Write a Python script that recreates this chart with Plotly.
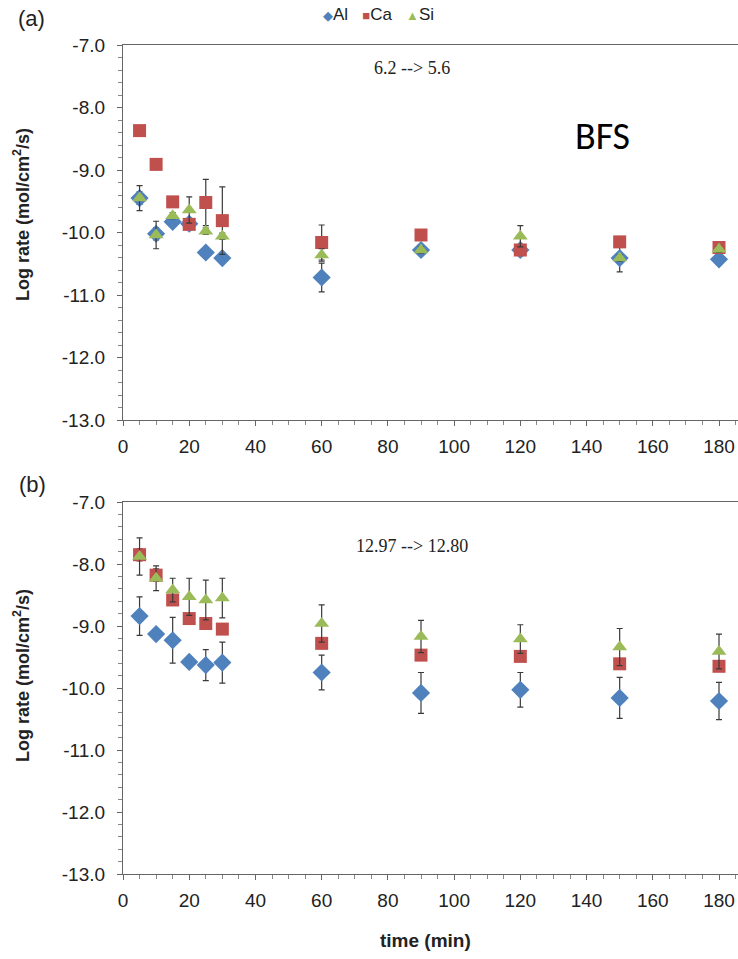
import plotly.graph_objects as go

# ---------------- data ----------------
time_min = [5, 10, 15, 20, 25, 30, 60, 90, 120, 150, 180]

# panel (a): pH 6.2 --> 5.6
a_al = [-9.45, -10.02, -9.83, -9.86, -10.32, -10.41, -10.72, -10.28, -10.28, -10.41, -10.43]
a_al_err = [0.10, 0.10, 0.05, 0.05, 0.05, 0.05, 0.23, 0.05, 0.05, 0.22, 0.05]
a_ca = [-8.37, -8.91, -9.51, -9.87, -9.52, -9.81, -10.16, -10.04, -10.28, -10.15, -10.24]
a_ca_err = [0.05, 0.05, 0.05, 0.05, 0.37, 0.54, 0.28, 0.05, 0.05, 0.05, 0.05]
a_si = [-9.45, -10.04, -9.73, -9.64, -9.98, -10.06, -10.36, -10.28, -10.06, -10.41, -10.27]
a_si_err = [0.20, 0.22, 0.05, 0.21, 0.05, 0.05, 0.10, 0.05, 0.17, 0.05, 0.05]

# panel (b): pH 12.97 --> 12.80
b_al = [-8.84, -9.13, -9.23, -9.58, -9.63, -9.59, -9.75, -10.08, -10.03, -10.16, -10.21]
b_al_err = [0.31, 0.05, 0.37, 0.05, 0.25, 0.33, 0.28, 0.33, 0.28, 0.33, 0.30]
b_ca = [-7.85, -8.18, -8.58, -8.88, -8.96, -9.05, -9.28, -9.47, -9.49, -9.61, -9.65]
b_ca_err = [0.10, 0.10, 0.05, 0.05, 0.05, 0.05, 0.05, 0.05, 0.05, 0.05, 0.05]
b_si = [-7.88, -8.23, -8.42, -8.53, -8.58, -8.55, -8.96, -9.17, -9.21, -9.34, -9.41]
b_si_err = [0.30, 0.20, 0.19, 0.30, 0.32, 0.32, 0.30, 0.26, 0.23, 0.30, 0.28]

series_names = ["Al", "Ca", "Si"]
series_colors = ["#4F81BD", "#C0504D", "#9BBB59"]
series_symbols = ["diamond", "square", "triangle-up"]
legend_glyphs = ["◆", "■", "▲"]
series_sizes = [14, 13, 13]

x_ticks = [0, 20, 40, 60, 80, 100, 120, 140, 160, 180]
y_ticks = [-7, -8, -9, -10, -11, -12, -13]
y_tick_labels = ["-7.0", "-8.0", "-9.0", "-10.0", "-11.0", "-12.0", "-13.0"]

panel_a_label = "(a)"
panel_b_label = "(b)"
panel_a_ph = "6.2 --> 5.6"
panel_b_ph = "12.97 --> 12.80"
sample_label = "BFS"
y_title = "Log rate (mol/cm<sup>2</sup>/s)"
x_title = "time (min)"

# ---------------- layout geometry ----------------
W, H = 738, 959
L = 123
PW = W - L

def py(p):
    return 1 - p / H

def px_x(p):
    return (p - L) / PW

fig = go.Figure()

panels = [
    ("x", "y", [a_al, a_ca, a_si], [a_al_err, a_ca_err, a_si_err]),
    ("x2", "y2", [b_al, b_ca, b_si], [b_al_err, b_ca_err, b_si_err]),
]
for xa, ya, vals, errs in panels:
    for i in range(3):
        fig.add_trace(go.Scatter(
            x=time_min, y=vals[i], mode="markers", name=series_names[i],
            xaxis=xa, yaxis=ya, showlegend=False,
            marker=dict(symbol=series_symbols[i], size=series_sizes[i],
                        color=series_colors[i], line=dict(width=0)),
            error_y=dict(type="data", array=errs[i], visible=True,
                         color="#3a3a3a", thickness=1.2, width=3),
        ))

tickfont = dict(family="Arial, Liberation Sans", size=19, color="#222")
axis_common = dict(showgrid=False, zeroline=False, showline=True,
                   linecolor="#666", linewidth=1.2, ticks="outside",
                   ticklen=5, tickcolor="#666", tickfont=tickfont,
                   automargin=False)
x_common = dict(axis_common, range=[0, PW / ((719 - L) / 180)],
                tickvals=x_ticks, mirror=True, ticklabelstandoff=4,
                minor=dict(dtick=5, ticks="outside", ticklen=4, tickcolor="#888"))
y_common = dict(axis_common, range=[-13, -7], tickvals=y_ticks,
                ticktext=y_tick_labels, ticklabelstandoff=8,
                minor=dict(dtick=0.2, ticks="outside", ticklen=4, tickcolor="#888"))

fig.update_layout(
    width=W, height=H,
    margin=dict(l=L, r=0, t=0, b=0, autoexpand=False),
    paper_bgcolor="white", plot_bgcolor="white",
    showlegend=False,
    xaxis=dict(x_common, domain=[0, 1], anchor="y"),
    yaxis=dict(y_common, domain=[py(420), py(45)], anchor="x"),
    xaxis2=dict(x_common, domain=[0, 1], anchor="y2"),
    yaxis2=dict(y_common, domain=[py(874), py(502)], anchor="x2"),
)

legend_text = "   ".join(
    '<span style="color:%s;font-size:13px">%s</span>%s' % (c, g, n)
    for c, g, n in zip(series_colors, legend_glyphs, series_names)
)

ann = [
    dict(text=legend_text, x=px_x(378), y=py(15), font=dict(size=17)),
    dict(text=panel_a_label, x=px_x(31), y=py(19), font=dict(size=22)),
    dict(text=panel_b_label, x=px_x(32), y=py(484), font=dict(size=22)),
    dict(text=panel_a_ph, x=px_x(412), y=py(68),
         font=dict(family="Liberation Serif, Times New Roman", size=18)),
    dict(text=panel_b_ph, x=px_x(412), y=py(546),
         font=dict(family="Liberation Serif, Times New Roman", size=18)),
    dict(text=sample_label, x=px_x(602), y=py(136),
         font=dict(family="Carlito, Noto Sans", size=38, color="#000")),
    dict(text="<b>" + y_title + "</b>", x=px_x(21), y=py(215), textangle=-90,
         font=dict(size=18)),
    dict(text="<b>" + y_title + "</b>", x=px_x(21), y=py(676), textangle=-90,
         font=dict(size=18)),
    dict(text="<b>" + x_title + "</b>", x=px_x(425), y=py(940),
         font=dict(size=19)),
]
for a in ann:
    f = dict(family="Arial, Liberation Sans", color="#222")
    f.update(a.pop("font"))
    fig.add_annotation(xref="paper", yref="paper", showarrow=False,
                       xanchor="center", yanchor="middle", font=f, **a)

fig.write_html("out.html")
